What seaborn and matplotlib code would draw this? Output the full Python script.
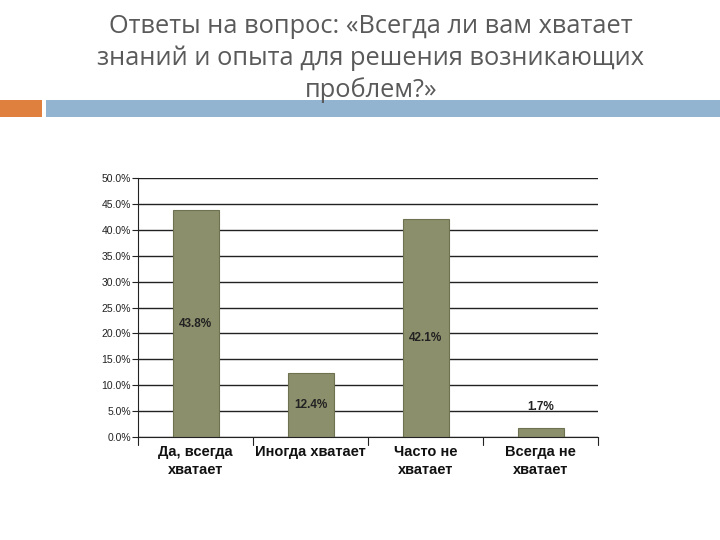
import matplotlib
matplotlib.use("Agg")
import matplotlib.pyplot as plt
import seaborn as sns
import pandas as pd
import numpy as np
from matplotlib.patches import Rectangle
from matplotlib.ticker import FuncFormatter, MultipleLocator

categories = ["Да, всегда\nхватает", "Иногда хватает", "Часто не\nхватает", "Всегда не\nхватает"]
values = [43.8, 12.4, 42.1, 1.7]
value_labels = ["43.8%", "12.4%", "42.1%", "1.7%"]
title = "Ответы на вопрос: «Всегда ли вам хватает\nзнаний и опыта для решения возникающих\nпроблем?»"

sns.set_style("white")
plt.rcParams['font.family'] = ['Liberation Sans', 'DejaVu Sans']

fig = plt.figure(figsize=(7.2, 5.4), dpi=100)
fig.patch.set_facecolor("white")

# Decorative bars
fig.patches.append(Rectangle((0, 1 - 117/540), 42/720, 17/540, transform=fig.transFigure,
                             facecolor="#E0803F", edgecolor="none"))
fig.patches.append(Rectangle((46/720, 1 - 117/540), 1 - 46/720, 17/540, transform=fig.transFigure,
                             facecolor="#93B4D1", edgecolor="none"))

ax = fig.add_axes([138/720, 1 - 437/540, 460/720, 259/540])
df = pd.DataFrame({"cat": categories, "val": values})
sns.barplot(data=df, x="cat", y="val", ax=ax, color="#8C8F6B", width=0.4,
            edgecolor="#6f7250", linewidth=0.8, saturation=1)

ax.set_ylim(0, 50)
ax.set_xlim(-0.5, 3.5)
ax.yaxis.set_major_locator(MultipleLocator(5))
ax.yaxis.set_major_formatter(FuncFormatter(lambda v, p: f"{v:.1f}%"))
ax.grid(axis="y", color="#222222", linewidth=1.0)
ax.set_axisbelow(True)
for s in ["top", "right"]:
    ax.spines[s].set_visible(False)
ax.spines["left"].set_color("#222222")
ax.spines["bottom"].set_color("#222222")
ax.tick_params(axis="y", labelsize=7.5, colors="#222222", length=4, width=0.8, direction="out", left=True, pad=1)
ax.set_xlabel("")
ax.set_ylabel("")
ax.set_xticks(range(len(categories)))
ax.set_xticklabels(categories, fontsize=10.5, fontweight="bold", color="#111111", linespacing=1.35)
ax.tick_params(axis="x", length=0, pad=6)
# category boundary ticks
for b in np.arange(-0.5, 4.0, 1.0):
    ax.plot([b, b], [0, -1.5], color="#222222", lw=0.8, clip_on=False)

for i, (v, lab) in enumerate(zip(values, value_labels)):
    y = v / 2 - (2 if i == 2 else 0) if v > 5 else v + 4
    ax.text(i, y, lab, ha="center", va="center", fontsize=8.5, fontweight="bold", color="#222222")

fig.text(0.515, 1 - 14/540, title, ha="center", va="top", fontsize=18.3, color="#5a5a5a",
         linespacing=1.33, family=['Open Sans', 'DejaVu Sans'], zorder=10)

fig.savefig("out.png", dpi=100)
